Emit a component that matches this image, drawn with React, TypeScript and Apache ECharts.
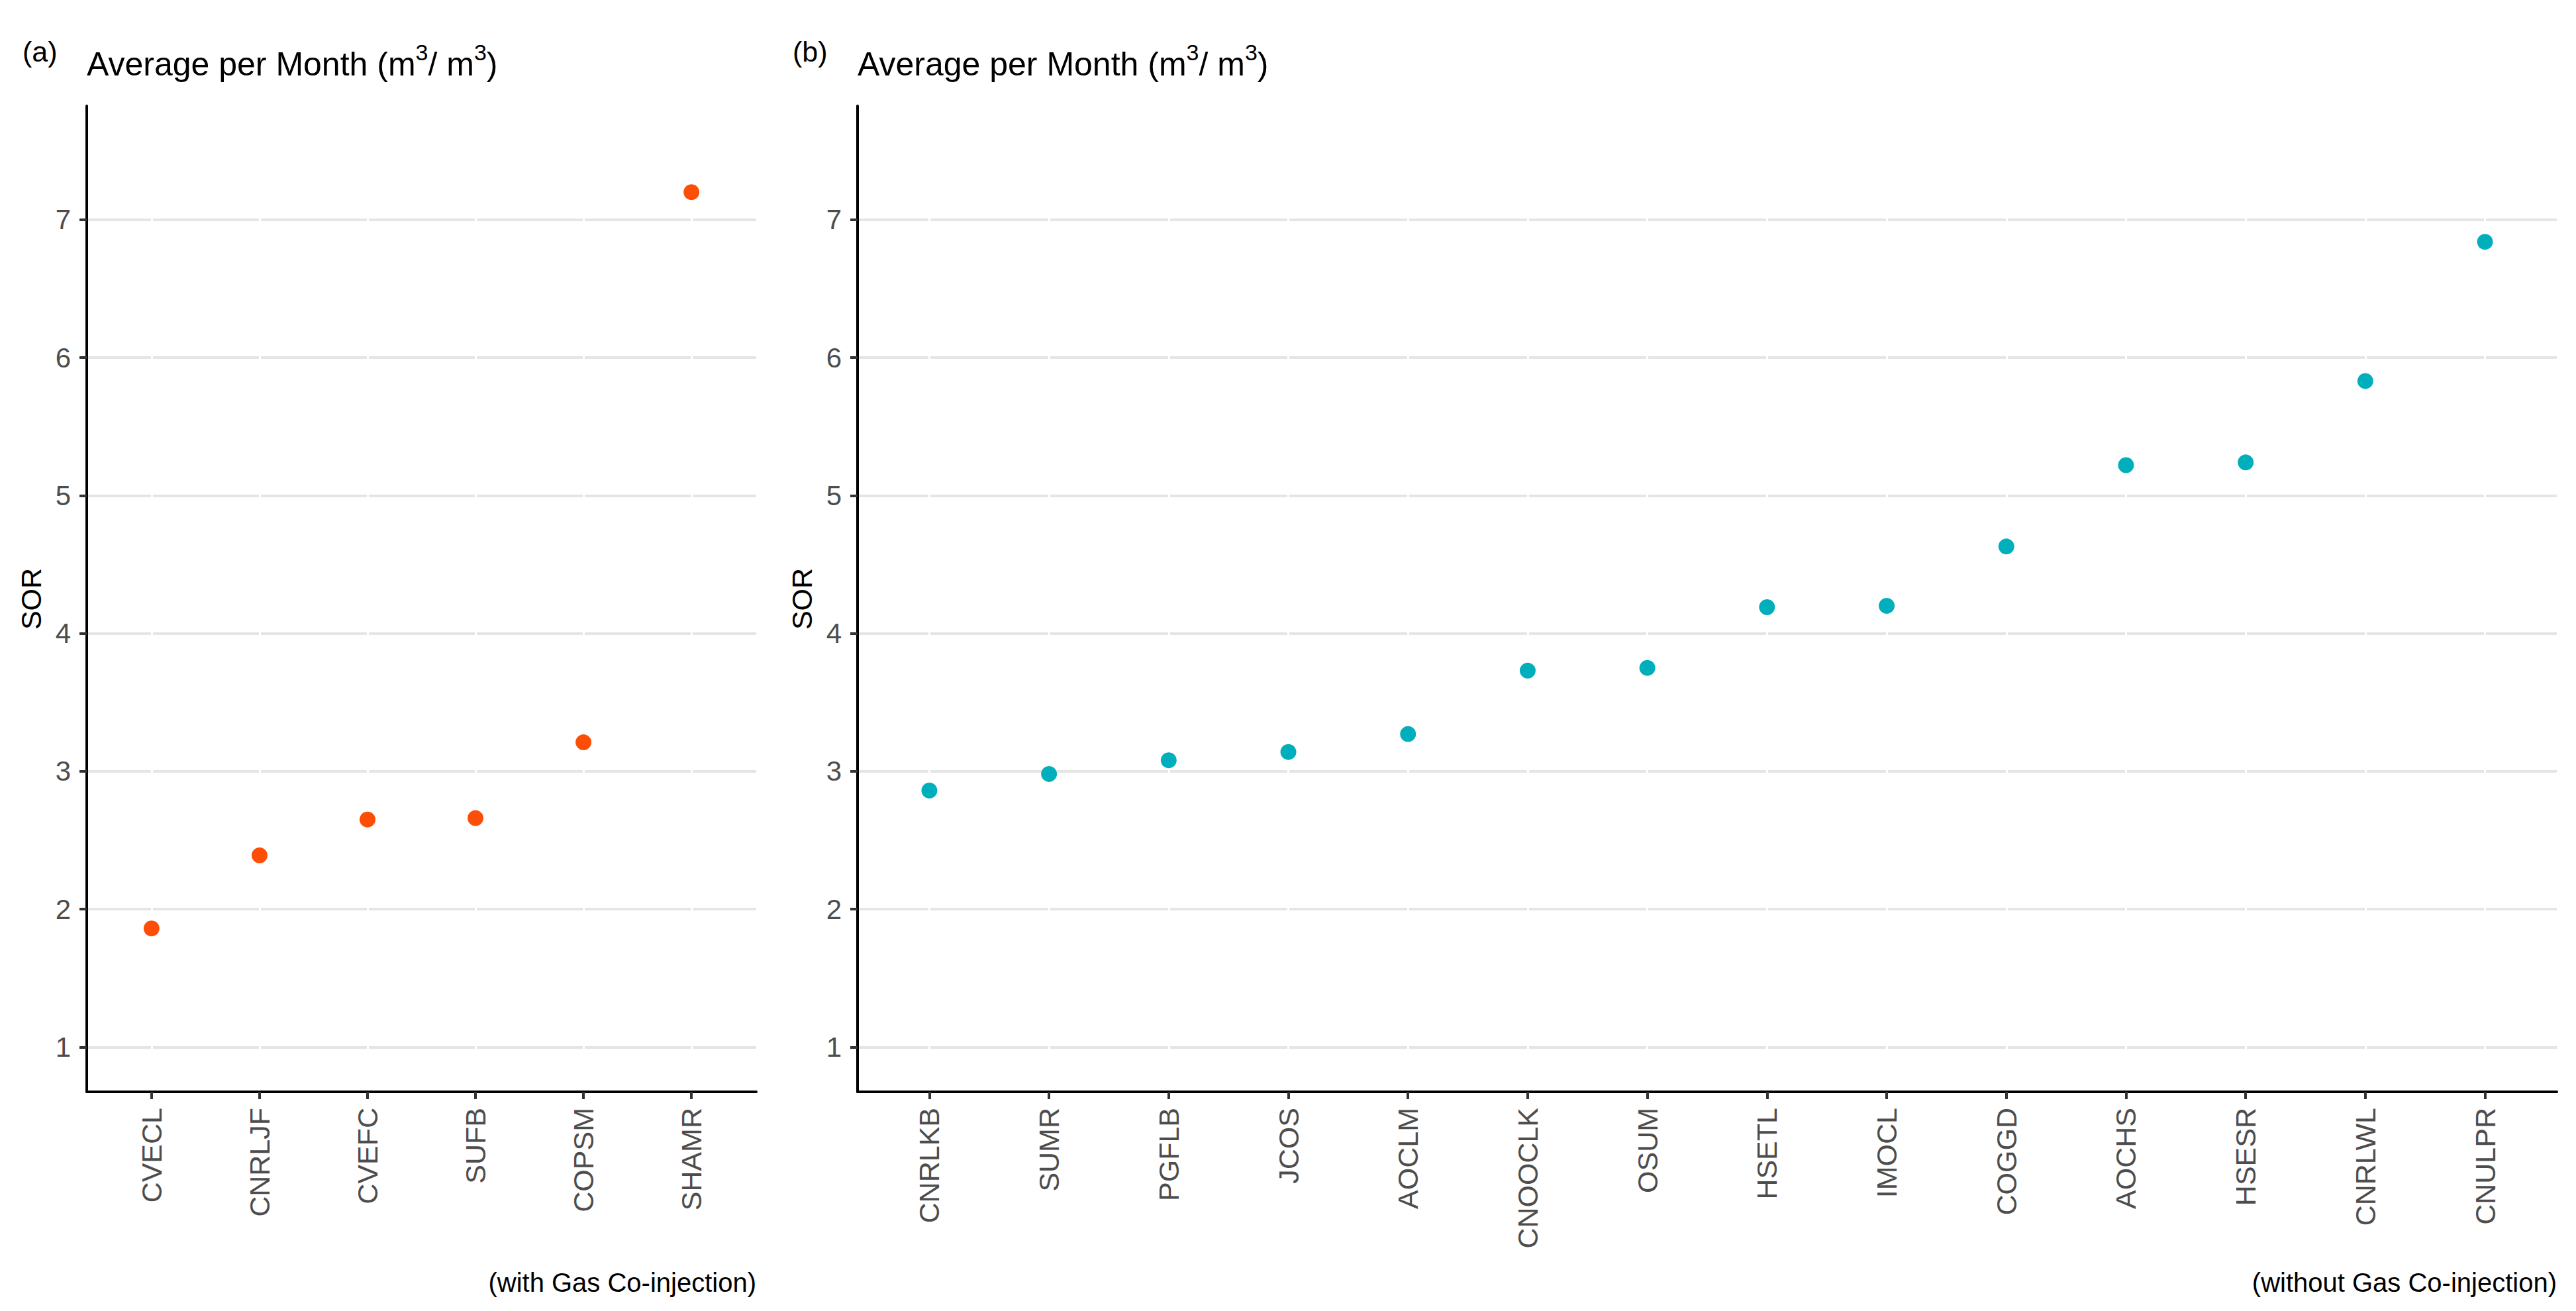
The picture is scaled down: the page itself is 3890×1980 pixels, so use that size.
import React, { useEffect, useRef } from "react";
import * as echarts from "echarts";

const CATS_A = ["CVECL", "CNRLJF", "CVEFC", "SUFB", "COPSM", "SHAMR"];
const SOR_A = [1.86, 2.39, 2.65, 2.66, 3.21, 7.2];
const CATS_B = ["CNRLKB", "SUMR", "PGFLB", "JCOS", "AOCLM", "CNOOCLK", "OSUM", "HSETL", "IMOCL", "COGGD", "AOCHS", "HSESR", "CNRLWL", "CNULPR"];
const SOR_B = [2.86, 2.98, 3.08, 3.14, 3.27, 3.73, 3.75, 4.19, 4.2, 4.63, 5.22, 5.24, 5.83, 6.84];
const Y_TICKS = [1, 2, 3, 4, 5, 6, 7];
const Y_LIMITS = [1, 7.5];
const PANEL_TAGS = ["(a)", "(b)"];
const CAPTIONS = ["(with Gas Co-injection)", "(without Gas Co-injection)"];
const Y_NAME = "SOR";
const COLORS = ["#FC4E07", "#00AFBB"];

const FONT = "'Liberation Sans', Arial, Helvetica, sans-serif";
const W = 3890;
const H = 1980;
const GRIDS = [
  { left: 131, top: 160, width: 1011, height: 1489 },
  { left: 1295, top: 160, width: 2566, height: 1489 },
];

const yExp = (Y_LIMITS[1] - Y_LIMITS[0]) * 0.05;
const Y_MIN = Y_LIMITS[0] - yExp;
const Y_MAX = Y_LIMITS[1] + yExp;

function xAxisFor(cats: string[], gridIndex: number) {
  const idx = cats.map((_, i) => i);
  return {
    type: "value",
    gridIndex,
    min: -0.6,
    max: cats.length - 1 + 0.6,
    axisLine: { show: true, onZero: false, lineStyle: { color: "#000", width: 4 } },
    axisTick: { show: true, length: 11, customValues: idx, lineStyle: { color: "#333", width: 4 } },
    axisLabel: {
      show: true,
      customValues: idx,
      rotate: 90,
      margin: 24,
      fontSize: 43,
      color: "#4D4D4D",
      fontFamily: FONT,
      formatter: (v: number) => cats[Math.round(v)] ?? "",
    },
    splitLine: { show: true, lineStyle: { color: "#FFFFFF", width: 3 } },
  };
}

function yAxisFor(gridIndex: number) {
  return {
    type: "value",
    gridIndex,
    min: Y_MIN,
    max: Y_MAX,
    axisLine: { show: true, onZero: false, lineStyle: { color: "#000", width: 4 } },
    axisTick: { show: true, length: 11, customValues: Y_TICKS, lineStyle: { color: "#333", width: 4 } },
    axisLabel: {
      show: true,
      customValues: Y_TICKS,
      margin: 24,
      fontSize: 42,
      color: "#4D4D4D",
      fontFamily: FONT,
      formatter: (v: number) => String(v),
    },
    splitLine: { show: true, lineStyle: { color: "#E5E5E5", width: 4 } },
  };
}

function titleText(g: { left: number }) {
  return {
    type: "text",
    x: g.left,
    y: 62,
    z: 10,
    style: {
      text: "{n|Average per Month (m}{s|3}{n|/ m}{s|3}{n|)}",
      verticalAlign: "top",
      align: "left",
      rich: {
        n: { fontSize: 50, lineHeight: 70, fontFamily: FONT, fill: "#000", verticalAlign: "middle" },
        s: { fontSize: 34, lineHeight: 26, fontFamily: FONT, fill: "#000", verticalAlign: "top" },
      },
    },
  };
}

export default function App() {
  const ref = useRef<HTMLDivElement>(null);
  useEffect(() => {
    document.body.style.margin = "0";
    if (!ref.current) return;
    const chart = echarts.init(ref.current, undefined, { renderer: "svg", width: W, height: H });
    const dataA = SOR_A.map((v, i) => [i, v]);
    const dataB = SOR_B.map((v, i) => [i, v]);
    const graphic: any[] = [];
    GRIDS.forEach((g, k) => {
      graphic.push(titleText(g));
      graphic.push({
        type: "text",
        x: k === 0 ? 34 : 1197,
        y: 78,
        style: { text: PANEL_TAGS[k], font: `43px ${FONT}`, fill: "#000", align: "left", verticalAlign: "middle" },
      });
      graphic.push({
        type: "text",
        x: g.left - 84,
        y: g.top + g.height / 2,
        rotation: Math.PI / 2,
        style: { text: Y_NAME, font: `43px ${FONT}`, fill: "#000", align: "center", verticalAlign: "middle" },
      });
      graphic.push({
        type: "text",
        x: g.left + g.width,
        y: 1937,
        style: { text: CAPTIONS[k], font: `40px ${FONT}`, fill: "#000", align: "right", verticalAlign: "middle" },
      });
    });
    chart.setOption({
      animation: false,
      backgroundColor: "#FFFFFF",
      textStyle: { fontFamily: FONT },
      grid: GRIDS.map((g) => ({ ...g, containLabel: false })),
      xAxis: [xAxisFor(CATS_A, 0), xAxisFor(CATS_B, 1)],
      yAxis: [yAxisFor(0), yAxisFor(1)],
      series: [
        {
          type: "scatter",
          xAxisIndex: 0,
          yAxisIndex: 0,
          data: dataA,
          symbol: "circle",
          symbolSize: 24,
          itemStyle: { color: COLORS[0], opacity: 1 },
          z: 5,
        },
        {
          type: "scatter",
          xAxisIndex: 1,
          yAxisIndex: 1,
          data: dataB,
          symbol: "circle",
          symbolSize: 24,
          itemStyle: { color: COLORS[1], opacity: 1 },
          z: 5,
        },
      ],
      graphic,
    });
    return () => chart.dispose();
  }, []);
  return <div ref={ref} style={{ position: "absolute", left: 0, top: 0, width: W, height: H }} />;
}
